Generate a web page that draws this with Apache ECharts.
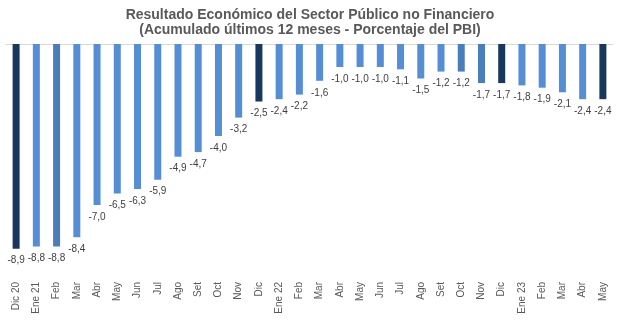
<!DOCTYPE html>
<html>
<head>
<meta charset="utf-8">
<script src="https://cdn.jsdelivr.net/npm/echarts@6/dist/echarts.min.js"></script>
<style>
html,body{margin:0;padding:0;background:#fff;}
#c{width:620px;height:323px;}
</style>
</head>
<body>
<div id="c"></div>
<script>
const categories = ['Dic 20','Ene 21','Feb','Mar','Abr','May','Jun','Jul','Ago','Set','Oct','Nov',
  'Dic','Ene 22','Feb','Mar','Abr','May','Jun','Jul','Ago','Set','Oct','Nov',
  'Dic','Ene 23','Feb','Mar','Abr','May'];
const values = [-8.9,-8.8,-8.8,-8.4,-7.0,-6.5,-6.3,-5.9,-4.9,-4.7,-4.0,-3.2,
  -2.5,-2.4,-2.2,-1.6,-1.0,-1.0,-1.0,-1.1,-1.5,-1.2,-1.2,-1.7,
  -1.7,-1.8,-1.9,-2.1,-2.4,-2.4];
const titleLines = ['Resultado Económico del Sector Público no Financiero',
  '(Acumulado últimos 12 meses - Porcentaje del PBI)'];

// styling
const darkIdx = [0, 12, 24, 29];
const midIdx = [2, 22, 23];
const colMain = '#558ED5', colDark = '#17375E', colMid = '#4A7EBB';
function barColor(i){ return darkIdx.includes(i) ? colDark : (midIdx.includes(i) ? colMid : colMain); }

const chart = echarts.init(document.getElementById('c'), null, {renderer:'canvas'});
chart.setOption({
  animation:false,
  backgroundColor:'#fff',
  title:{
    text: titleLines.join('\n'),
    left: 'center', top: 2,
    textStyle:{fontFamily:'Liberation Sans', fontSize:14, fontWeight:'bold', color:'#595959', lineHeight:15.5}
  },
  grid:{left:6, right:7, top:44, height:230},
  xAxis:[{
    type:'category', data:categories, position:'top',
    axisLine:{show:true, lineStyle:{color:'#D9D9D9', width:1}},
    axisTick:{show:false}, axisLabel:{show:false}
  },{
    type:'category', data:categories, position:'bottom',
    axisLine:{show:false}, axisTick:{show:false},
    axisLabel:{rotate:90, margin:8, interval:0, fontFamily:'Liberation Sans', fontSize:10, color:'#595959'}
  }],
  yAxis:{type:'value', min:-10, max:0, show:false, splitLine:{show:false}},
  series:[{
    type:'bar', xAxisIndex:0, barWidth:7,
    data: values.map((v,i)=>({value:v, itemStyle:{color:barColor(i)}})),
    label:{show:true, position:'bottom', distance:7, fontFamily:'Liberation Sans', fontSize:10, color:'#404040',
      formatter: p => p.value.toFixed(1).replace('.', ',')}
  }]
});
</script>
</body>
</html>
